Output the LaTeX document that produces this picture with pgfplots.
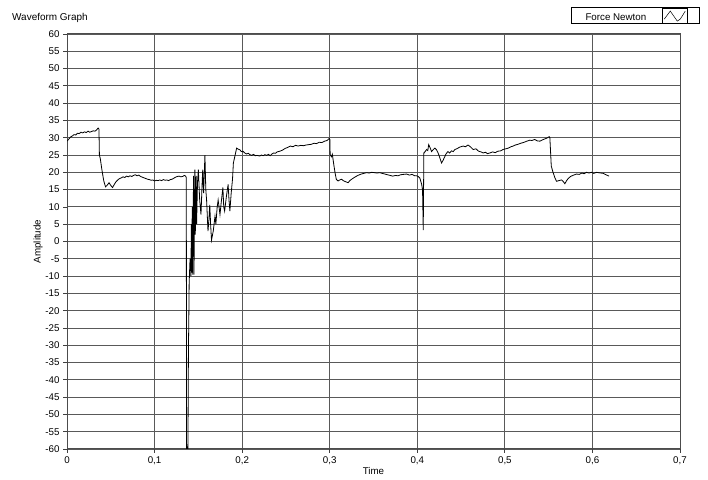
\documentclass[border=0pt]{standalone}
\usepackage{fontspec}
\setmainfont{Liberation Sans}
\usepackage{pgfplots}
\pgfplotsset{compat=1.18}
\pgfplotstableread{
x y
0 29.0
0.002 29.6
0.004 30.2
0.006 30.5
0.008 30.9
0.010 30.8
0.012 31.3
0.014 31.2
0.016 31.6
0.018 31.4
0.020 31.7
0.022 31.5
0.024 31.9
0.026 31.6
0.028 31.8
0.030 32.0
0.032 31.9
0.034 32.3
0.0355 32.8
0.0365 32.5
0.037 25.0
0.038 24.0
0.040 20.5
0.042 17.5
0.044 15.8
0.046 16.3
0.048 17.0
0.050 16.2
0.052 15.6
0.054 16.5
0.056 17.3
0.058 17.8
0.060 18.2
0.062 18.4
0.064 18.7
0.066 18.5
0.068 18.9
0.070 18.7
0.072 19.0
0.074 18.8
0.076 19.1
0.078 19.3
0.080 19.0
0.082 19.2
0.084 18.8
0.086 18.6
0.088 18.4
0.090 18.2
0.092 18.0
0.094 17.9
0.096 17.7
0.098 17.8
0.100 17.5
0.102 17.7
0.104 17.6
0.106 17.8
0.108 17.6
0.110 17.9
0.112 17.7
0.114 17.8
0.116 17.6
0.118 17.9
0.120 18.0
0.122 18.3
0.124 18.6
0.126 18.8
0.128 18.9
0.130 18.7
0.132 18.8
0.134 19.1
0.1355 18.9
0.1362 18.5
0.1366 -65
0.1378 -65
0.1382 -55
0.1387 -30
0.139 -25
0.1395 -12
0.1405 -5
0.1415 -10
0.142 5
0.1425 -9
0.143 10
0.1435 -9.6
0.1445 19
0.145 -9.6
0.146 20.8
0.1465 2
0.1475 19
0.148 5
0.149 17
0.150 20.8
0.1515 12
0.153 7.8
0.1545 18
0.155 20.8
0.156 14
0.1575 25
0.1585 15
0.1594 12
0.161 3
0.162 6
0.163 10.6
0.164 5
0.165 0.4
0.167 3
0.169 7.3
0.170 5
0.1715 10
0.1726 12
0.1747 7.8
0.176 11
0.178 15.6
0.179 10
0.180 8.8
0.182 13
0.184 16.5
0.185 12
0.186 8.8
0.1875 14
0.189 18
0.190 22.7
0.192 25
0.1937 27
0.1955 26.7
0.1975 26.5
0.199 26.0
0.201 26.1
0.203 25.6
0.205 25.3
0.207 25.5
0.209 25.1
0.211 24.9
0.213 25.2
0.215 24.8
0.217 24.9
0.220 24.7
0.222 25.0
0.224 24.8
0.226 25.1
0.228 24.9
0.230 25.2
0.232 24.8
0.234 25.3
0.236 25.6
0.238 25.5
0.240 25.9
0.243 26.1
0.246 26.4
0.249 26.9
0.252 27.2
0.255 27.6
0.258 27.4
0.261 27.8
0.264 27.6
0.267 27.8
0.270 27.7
0.273 27.9
0.276 28.0
0.279 28.1
0.282 28.4
0.285 28.3
0.288 28.7
0.291 28.6
0.294 29.0
0.297 29.2
0.2995 29.8
0.3002 29.5
0.3005 25.1
0.302 24.5
0.303 25.2
0.3045 22.5
0.306 20.0
0.3075 18.0
0.3095 17.5
0.3115 17.8
0.3135 18.0
0.3155 17.6
0.318 17.3
0.321 17.0
0.323 17.6
0.325 18.0
0.328 18.5
0.3307 18.9
0.333 19.2
0.336 19.5
0.339 19.7
0.342 19.9
0.345 19.8
0.348 20.0
0.351 19.9
0.354 19.8
0.357 19.9
0.360 19.7
0.363 19.5
0.366 19.3
0.369 19.1
0.372 18.9
0.375 19.1
0.378 19.0
0.381 19.3
0.384 19.4
0.3878 19.5
0.391 19.2
0.394 19.4
0.397 19.0
0.399 19.0
0.401 18.8
0.403 18.3
0.405 16.5
0.406 15.0
0.4068 3.3
0.4075 25.6
0.409 26.0
0.4106 26.6
0.412 26.3
0.413 28.0
0.4145 27.2
0.4163 26.0
0.418 26.5
0.420 27.0
0.422 26.5
0.4238 25.6
0.426 24.0
0.4277 22.7
0.4295 23.5
0.4315 24.6
0.433 25.4
0.435 26.0
0.437 25.6
0.439 26.2
0.441 26.0
0.443 26.6
0.445 26.8
0.4486 27.3
0.4524 27.6
0.455 27.4
0.458 27.9
0.461 27.3
0.4638 26.6
0.467 26.8
0.470 26.1
0.473 25.9
0.4752 25.6
0.478 25.8
0.480 25.4
0.483 25.6
0.486 25.9
0.489 25.7
0.492 26.1
0.495 26.2
0.498 26.6
0.501 26.8
0.504 27.0
0.507 27.4
0.5095 27.6
0.512 27.9
0.515 28.1
0.518 28.4
0.521 28.6
0.524 28.9
0.5285 29.3
0.531 29.2
0.534 29.5
0.537 29.1
0.540 29.0
0.543 29.4
0.546 29.7
0.548 29.9
0.5506 30.3
0.5514 30.0
0.553 21.8
0.555 20.0
0.557 18.5
0.559 17.4
0.5615 17.6
0.5647 17.8
0.5665 17.4
0.5685 16.7
0.5705 17.6
0.5723 18.2
0.575 18.8
0.5785 19.2
0.5818 19.5
0.585 19.4
0.588 19.8
0.5905 19.6
0.5932 20.0
0.596 19.8
0.599 20.0
0.6015 19.7
0.6047 20.0
0.607 19.9
0.6095 19.8
0.6122 19.7
0.6155 19.3
0.619 18.9
}\force
\begin{document}
\begin{tikzpicture}
\path (0bp,0bp) rectangle (708bp,480bp);
\node[anchor=west, inner sep=0pt, font=\fontsize{10}{12}\selectfont] at (12bp,462bp) {Waveform Graph};
\begin{axis}[
  at={(67bp,31bp)}, anchor=south west,
  scale only axis, width=613bp, height=415bp,
  xmin=0, xmax=0.7, ymin=-60, ymax=60,
  xtick={0,0.1,0.2,0.3,0.4,0.5,0.6,0.7},
  ytick={-60,-55,-50,-45,-40,-35,-30,-25,-20,-15,-10,-5,0,5,10,15,20,25,30,35,40,45,50,55,60},
  xtick pos=bottom, ytick pos=left,
  tick align=outside, major tick length=4bp,
  tick style={black!75, line width=0.8bp},
  grid=major,
  major grid style={black!65, line width=0.9bp},
  axis line style={black!70, line width=1bp},
  tick label style={font=\fontsize{9.8}{11}\selectfont},
  /pgf/number format/assume math mode=true,
  xticklabel style={/pgf/number format/.cd, use comma, fixed, precision=1},
  xlabel={Time}, ylabel={Amplitude},
  label style={font=\fontsize{9.8}{11}\selectfont},
  xlabel style={at={(axis description cs:0.5,-0.053)}, anchor=center},
  ylabel style={at={(axis description cs:-0.0473,0.5)}, anchor=center},
  clip=true,
  legend style={at={(1.0326,1.065)}, anchor=north east, draw=black, line width=1.4bp,
    inner sep=0pt, font=\fontsize{9.8}{11}\selectfont, nodes={inner sep=0pt}},
  legend plot pos=right,
  legend image code/.code={%
    \path[draw=none, fill=none] (0bp,0bp) -- (53bp,0bp);
    \draw[black, line width=0.8bp] (16bp,-5bp) rectangle (41bp,10bp);
    \draw[black, line width=0.5bp] (18bp,-1bp) -- (24bp,7bp) -- (31bp,-3bp) -- (34bp,-1bp) -- (39bp,7bp);
  },
]
\addplot[black, line width=0.8bp] table[x=x, y=y] {\force};
\addlegendentry{\hspace*{14bp}Force Newton}
\end{axis}
\end{tikzpicture}
\end{document}
